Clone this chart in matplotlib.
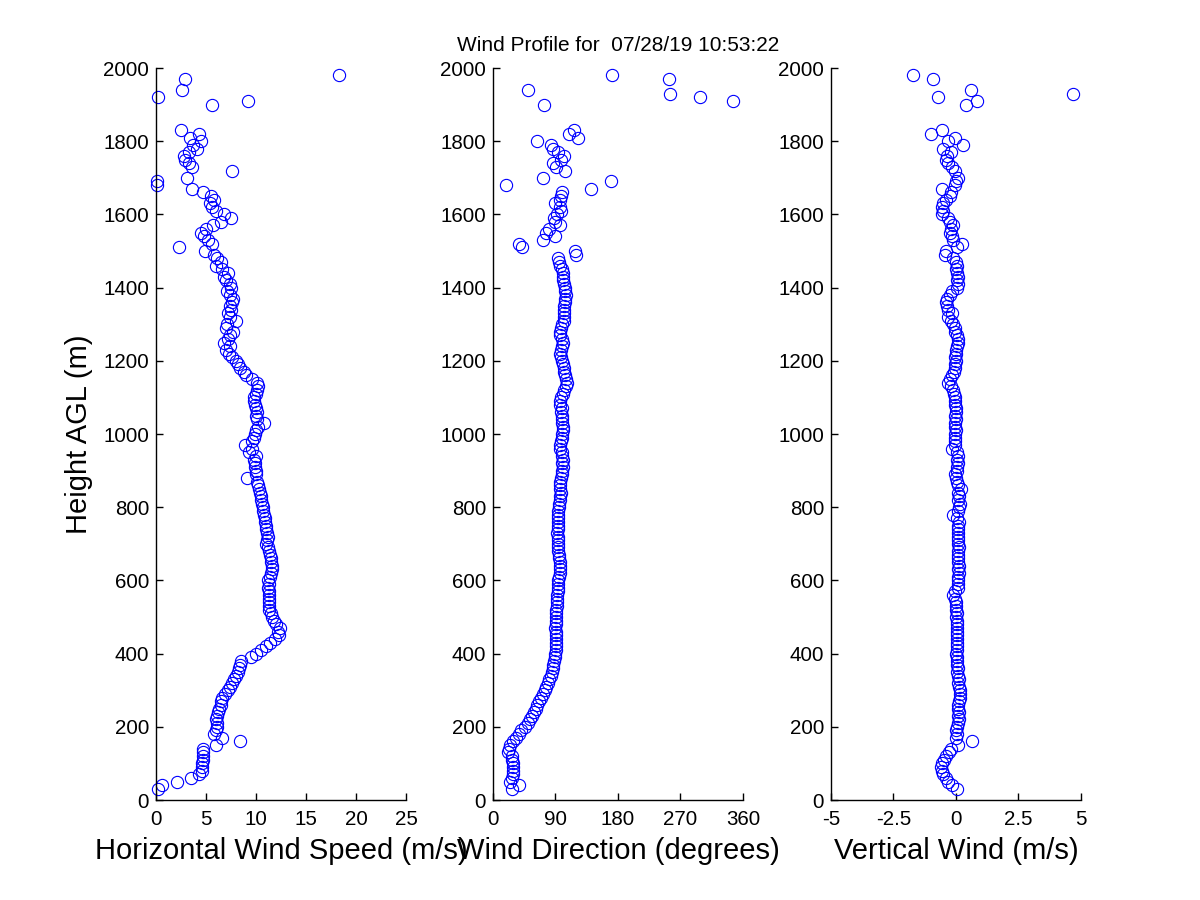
######
# Lidar wind profile - three panel scatter of speed, direction and vertical wind
######

import numpy as np
import matplotlib
matplotlib.use('Agg')
import matplotlib.pyplot as plt

plt.rcParams['font.family'] = ['Liberation Sans', 'DejaVu Sans']

nan = np.nan

# Range gate heights (m AGL)
heights = [
    30, 40, 50, 60, 70, 80, 90, 100, 110, 120,
    130, 140, 150, 160, 170, 180, 190, 200, 210, 220,
    230, 240, 250, 260, 270, 280, 290, 300, 310, 320,
    330, 340, 350, 360, 370, 380, 390, 400, 410, 420,
    430, 440, 450, 460, 470, 480, 490, 500, 510, 520,
    530, 540, 550, 560, 570, 580, 590, 600, 610, 620,
    630, 640, 650, 660, 670, 680, 690, 700, 710, 720,
    730, 740, 750, 760, 770, 780, 790, 800, 810, 820,
    830, 840, 850, 860, 870, 880, 890, 900, 910, 920,
    930, 940, 950, 960, 970, 980, 990, 1000, 1010, 1020,
    1030, 1040, 1050, 1060, 1070, 1080, 1090, 1100, 1110, 1120,
    1130, 1140, 1150, 1160, 1170, 1180, 1190, 1200, 1210, 1220,
    1230, 1240, 1250, 1260, 1270, 1280, 1290, 1300, 1310, 1320,
    1330, 1340, 1350, 1360, 1370, 1380, 1390, 1400, 1410, 1420,
    1430, 1440, 1450, 1460, 1470, 1480, 1490, 1500, 1510, 1520,
    1530, 1540, 1550, 1560, 1570, 1580, 1590, 1600, 1610, 1620,
    1630, 1640, 1650, 1660, 1670, 1680, 1690, 1700, 1710, 1720,
    1730, 1740, 1750, 1760, 1770, 1780, 1790, 1800, 1810, 1820,
    1830, 1840, 1850, 1860, 1870, 1880, 1890, 1900, 1910, 1920,
    1930, 1940, 1950, 1960, 1970, 1980,
]

# Horizontal wind speed (m/s)
wind_speed = [
    0.2, 0.6, 2.1, 3.5, 4.3, 4.6, 4.6, 4.6, 4.7, 4.7,
    4.7, 4.7, 6.0, 8.4, 6.6, 5.8, 6.0, 6.1, 6.1, 6.0,
    6.1, 6.2, 6.3, 6.5, 6.5, 6.6, 6.9, 7.2, 7.4, 7.6,
    7.8, 8.0, 8.2, 8.3, 8.4, 8.5, 9.5, 10.0, 10.5, 11.0,
    11.4, 11.9, 12.3, 12.2, 12.4, 12.0, 11.8, 11.6, 11.5, 11.3,
    11.3, 11.3, 11.3, 11.3, 11.3, 11.2, 11.3, 11.2, 11.4, 11.5,
    11.6, 11.6, 11.5, 11.5, 11.4, 11.3, 11.2, 11.0, 11.1, 11.2,
    11.1, 11.0, 11.0, 10.9, 10.9, 10.8, 10.7, 10.7, 10.6, 10.5,
    10.5, 10.4, 10.3, 10.2, 10.1, 9.1, 10.0, 10.0, 9.9, 9.9,
    9.8, 10.0, 9.3, 9.6, 8.9, 9.6, 9.8, 9.9, 10.0, 10.2,
    10.8, 10.1, 10.0, 10.1, 10.0, 9.9, 9.8, 9.8, 10.0, 10.1,
    10.2, 10.1, 9.6, 9.0, 8.8, 8.4, 8.2, 8.0, 7.6, 7.3,
    7.0, 7.4, 6.8, 7.2, 7.4, 7.7, 7.0, 7.1, 8.0, 7.4,
    7.2, 7.5, 7.4, 7.6, 7.7, 7.4, 7.1, 7.5, 7.4, 7.0,
    6.8, 7.2, 6.6, 6.0, 6.5, 6.1, 5.8, 4.9, 2.3, 5.6,
    5.2, 4.8, 4.5, 5.0, 5.7, 6.5, 7.5, 6.8, 6.0, 5.6,
    5.4, 5.8, 5.5, 4.7, 3.6, 0.1, 0.1, 3.1, nan, 7.6,
    3.6, 3.3, 2.9, 2.8, 3.3, 4.1, 3.7, 4.5, 3.4, 4.3,
    2.5, nan, nan, nan, nan, nan, nan, 5.6, 9.2, 0.2,
    nan, 2.6, nan, nan, 2.9, 18.3,
]

# Wind direction (degrees)
wind_dir = [
    28, 38, 25, 28, 29, 29, 29, 29, 28, 27,
    22, 23, 25, 29, 33, 37, 41, 46, 50, 53,
    56, 59, 62, 64, 67, 69, 72, 75, 77, 79,
    81, 83, 85, 86, 87, 88, 89, 90, 91, 91,
    91, 91, 91, 91, 90, 91, 91, 91, 91, 91,
    92, 92, 92, 92, 93, 93, 93, 94, 95, 96,
    96, 97, 96, 95, 95, 94, 94, 93, 93, 93,
    92, 93, 94, 93, 94, 93, 94, 95, 95, 96,
    97, 98, 97, 96, 97, 98, 99, 100, 101, 100,
    101, 100, 99, 97, 96, 98, 99, 100, 101, 101,
    100, 100, 99, 98, 99, 97, 96, 98, 101, 103,
    105, 106, 105, 104, 103, 102, 101, 100, 98, 97,
    98, 100, 101, 99, 97, 96, 98, 100, 102, 103,
    103, 102, 103, 104, 104, 105, 104, 104, 103, 101,
    101, 101, 99, 97, 95, 94, 119, 118, 42, 37,
    72, 90, 77, 81, 96, 90, 88, 92, 98, 96,
    90, 96, 98, 99, 141, 19, 170, 72, nan, 104,
    91, 87, 98, 102, 94, 87, 83, 63, 122, 110,
    117, nan, nan, nan, nan, nan, nan, 73, 345, 298,
    255, 50, nan, nan, 254, 171,
]

# Vertical wind (m/s)
vert_wind = [
    0.05, -0.15, -0.3, -0.4, -0.5, -0.55, -0.58, -0.55, -0.48, -0.38,
    -0.28, -0.2, 0.07, 0.65, 0.0, 0.03, 0.0, 0.05, 0.1, 0.12,
    0.1, 0.12, 0.1, 0.08, 0.12, 0.15, 0.18, 0.15, 0.12, 0.1,
    0.12, 0.08, 0.05, 0.07, 0.05, 0.03, 0.05, 0.02, 0.05, 0.05,
    0.03, 0.06, 0.04, 0.05, 0.03, 0.05, 0.04, 0.02, 0.03, 0.0,
    0.02, 0.0, -0.02, -0.1, -0.05, 0.08, 0.1, 0.07, 0.1, 0.12,
    0.1, 0.12, 0.08, 0.1, 0.1, 0.08, 0.12, 0.1, 0.08, 0.1,
    0.07, 0.1, 0.08, 0.12, 0.05, -0.13, 0.1, 0.12, 0.15, 0.1,
    0.12, 0.08, 0.2, 0.1, 0.05, 0.0, -0.05, 0.03, 0.05, 0.08,
    0.05, 0.1, 0.03, -0.15, -0.05, -0.02, -0.04, -0.02, 0.0, -0.03,
    -0.02, 0.0, -0.02, 0.02, 0.0, -0.05, -0.02, -0.05, -0.08, -0.12,
    -0.2, -0.3, -0.22, -0.15, -0.08, -0.05, -0.02, 0.0, -0.03, 0.0,
    0.02, 0.05, 0.08, 0.1, 0.05, -0.02, -0.05, -0.1, -0.2, -0.3,
    -0.15, -0.3, -0.35, -0.4, -0.35, -0.25, -0.15, 0.05, 0.1, 0.05,
    0.1, 0.05, 0.0, 0.05, 0.0, -0.1, -0.45, -0.4, 0.05, 0.25,
    -0.1, -0.15, -0.25, -0.2, -0.1, -0.25, -0.3, -0.55, -0.5, -0.55,
    -0.5, -0.4, -0.25, -0.2, -0.55, -0.05, 0.0, 0.1, nan, -0.05,
    -0.15, -0.3, -0.4, -0.35, -0.2, -0.5, 0.3, -0.3, -0.05, -1.0,
    -0.55, nan, nan, nan, nan, nan, nan, 0.4, 0.85, -0.7,
    4.7, 0.6, nan, nan, -0.9, -1.7,
]

title_text = 'Wind Profile for  07/28/19 10:53:22'

# Per panel settings: values, x limits, x ticks, tick labels, x label
panels = [
    (wind_speed, (0, 25), [0, 5, 10, 15, 20, 25],
     ['0', '5', '10', '15', '20', '25'], 'Horizontal Wind Speed (m/s)'),
    (wind_dir, (0, 360), [0, 90, 180, 270, 360],
     ['0', '90', '180', '270', '360'], 'Wind Direction (degrees)'),
    (vert_wind, (-5, 5), [-5, -2.5, 0, 2.5, 5],
     ['-5', '-2.5', '0', '2.5', '5'], 'Vertical Wind (m/s)'),
]

lefts = [0.13, 0.4108, 0.6925]

fig = plt.figure(figsize=(12, 9), dpi=100)
fig.patch.set_facecolor('white')

for i, (values, xlim, xticks, xticklabels, xlabel) in enumerate(panels):
    ax = fig.add_axes([lefts[i], 0.1111, 0.2083, 0.8133])
    ax.plot(values, heights, linestyle='none', marker='o', markersize=8.8,
            markerfacecolor='none', markeredgecolor='#0000ff',
            markeredgewidth=0.8, clip_on=False)

    ax.set_xlim(*xlim)
    ax.set_ylim(0, 2000)
    ax.set_xticks(xticks)
    ax.set_xticklabels(xticklabels)
    ax.set_yticks(range(0, 2001, 200))

    # MATLAB style: only left and bottom lines, ticks pointing in
    ax.spines['top'].set_visible(False)
    ax.spines['right'].set_visible(False)
    for side in ['left', 'bottom']:
        ax.spines[side].set_linewidth(1.0)
    ax.tick_params(direction='in', length=5, width=1.0, labelsize=14.8,
                   pad=5, top=False, right=False)
    ax.tick_params(axis='x', pad=7)

    ax.set_xlabel(xlabel, fontsize=21, labelpad=6)
    if i == 0:
        ax.set_ylabel('Height AGL (m)', fontsize=21, labelpad=7)
    if i == 1:
        ax.set_title(title_text, fontsize=15, pad=12)

plt.savefig('out.png', dpi=100, facecolor='white')
plt.close()
